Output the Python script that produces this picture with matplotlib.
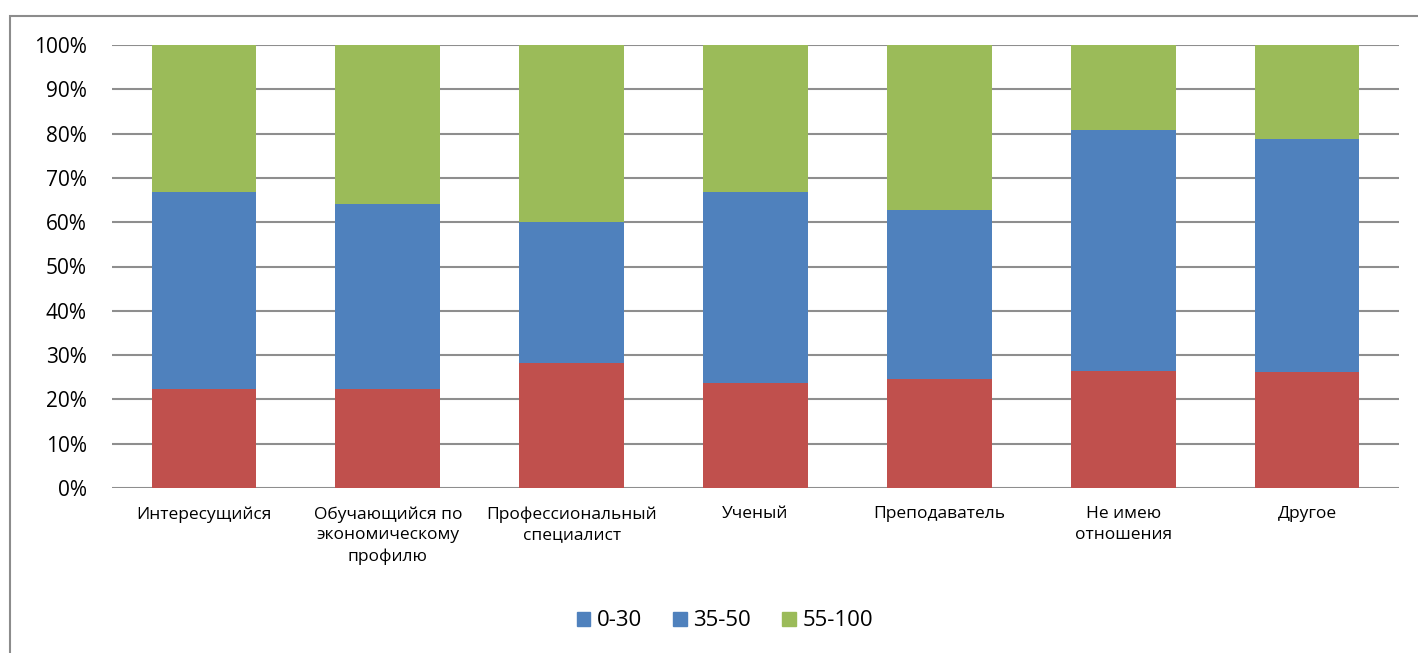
import matplotlib.pyplot as plt
import numpy as np
from matplotlib.patches import Patch, Rectangle

categories = ['Интересущийся', 'Обучающийся по\nэкономическому\nпрофилю',
              'Профессиональный\nспециалист', 'Ученый', 'Преподаватель',
              'Не имею\nотношения', 'Другое']
low = [22.3, 22.3, 28.2, 23.7, 24.6, 26.4, 26.2]      # 0-30
mid = [44.5, 41.8, 31.8, 43.1, 38.2, 54.4, 52.6]      # 35-50
high = [33.2, 35.9, 40.0, 33.2, 37.2, 19.2, 21.2]     # 55-100
series_names = ['0-30', '35-50', '55-100']
yticks = np.arange(0, 101, 10)

red, blue, green = '#C0504D', '#4F81BD', '#9BBB59'
plt.rcParams['font.family'] = ['Open Sans', 'DejaVu Sans']

fig = plt.figure(figsize=(14.18, 6.53), dpi=100)
ax = fig.add_axes([112/1418, 1-488/653, (1399-112)/1418, (488-45)/653])

x = np.arange(len(categories))
w = 0.57
ax.bar(x, low, w, color=red, zorder=3)
ax.bar(x, mid, w, bottom=low, color=blue, zorder=3)
ax.bar(x, high, w, bottom=np.add(low, mid), color=green, zorder=3)

ax.set_xlim(-0.5, len(categories) - 0.5)
ax.set_ylim(0, 100)
ax.set_yticks(yticks)
ax.set_yticklabels([f'{v}%' for v in yticks], fontsize=15)
ax.yaxis.grid(True, color='#8E8E8E', linewidth=1.5, zorder=0)
ax.set_xticks(x)
ax.set_xticklabels(categories, fontsize=12.5, linespacing=1.4)
ax.tick_params(axis='x', length=0, pad=13)
ax.tick_params(axis='y', length=0, pad=18)
for s in ax.spines.values():
    s.set_visible(False)

# legend (first marker drawn blue, as in the source)
handles = [Patch(color=blue), Patch(color=blue), Patch(color=green)]
fig.legend(handles, series_names, loc='center', bbox_to_anchor=(725/1418, 1-621/653),
           ncol=3, frameon=False, fontsize=16, handlelength=0.6, handleheight=0.6,
           handletextpad=0.3, columnspacing=1.4)

# outer chart frame
fig.patches.append(Rectangle((10/1418, -0.1), 1.2, 1-16/653+0.1, transform=fig.transFigure,
                             fill=False, edgecolor='#8C8C8C', linewidth=1.5))

fig.savefig('out.png', dpi=100)
